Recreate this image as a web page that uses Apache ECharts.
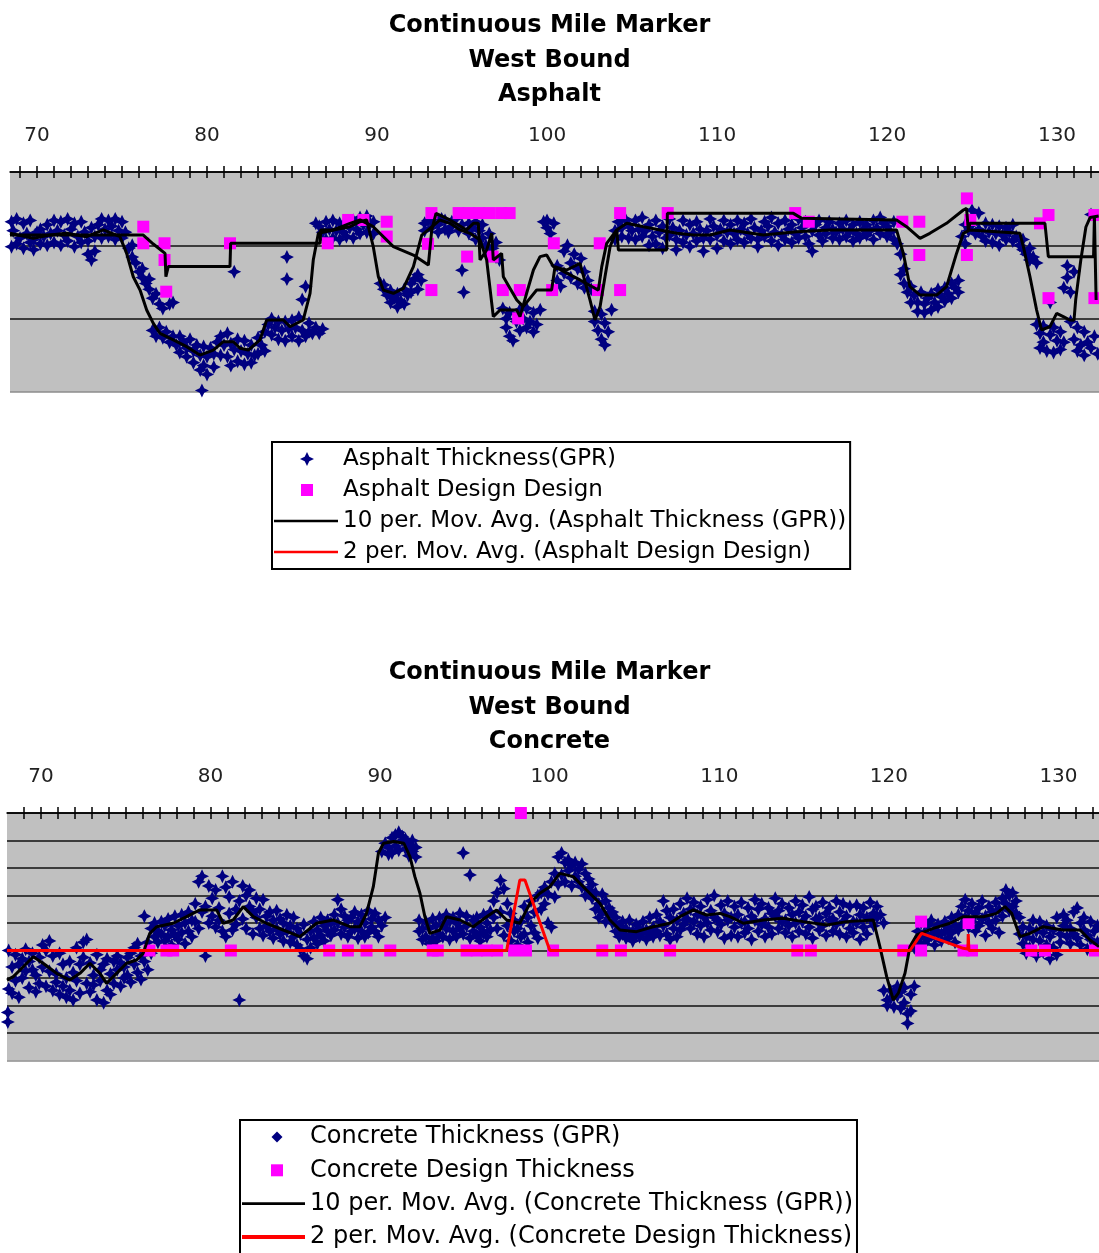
<!DOCTYPE html>
<html>
<head>
<meta charset="utf-8">
<script src="https://cdn.jsdelivr.net/npm/echarts@6/dist/echarts.min.js"></script>
<style>
html,body{margin:0;padding:0;background:#ffffff;}
#chart{width:1099px;height:1253px;}
</style>
</head>
<body>
<div id="chart"></div>
<script>
// ---------------- DATA ----------------
const mileTicks = [69,70,71,72,73,74,75,76,77,78,79,80,81,82,83,84,85,86,87,88,89,90,91,92,93,94,95,96,97,98,99,100,
  101,102,103,104,105,106,107,108,109,110,111,112,113,114,115,116,117,118,119,120,121,122,123,124,125,126,127,128,129,130,131,132];
const mileLabels = [70,80,90,100,110,120,130];

// Asphalt thickness (GPR): [mile, reading, reading...]
const asphaltGprRows = [
[68.5,3.4,5.1],[68.6,4.0],[68.8,3.2,4.9],[69.0,4.5],[69.2,3.5,5.2],[69.4,4.2],[69.6,3.3,4.8],[69.8,4.6,5.3],[70.0,4.1],[70.2,4.9,3.9],
[70.4,4.4],[70.6,5.0,3.6],[70.8,4.2],[71.0,3.3,4.8],[71.2,4.0],[71.4,3.4,5.0],[71.6,4.3],[71.8,3.2,4.7],[72.0,3.9],[72.2,3.5,5.1],
[72.4,4.4],[72.6,3.4,4.8],[72.8,4.1],[73.0,4.7,5.6],[73.2,3.8,6.0],[73.4,4.4,5.4],[73.6,3.6],[73.8,3.2,4.5],[74.0,3.9],[74.2,3.3,4.4],
[74.4,3.7],[74.6,3.2,4.6],[74.8,4.0],[75.0,3.4,4.5],[75.2,4.1],[75.4,5.2],[75.6,5.8,5.0],[75.8,6.2],[76.0,6.8],[76.2,7.2,6.6],
[76.4,7.6],[76.6,8.0,7.3],[76.8,8.6,10.8],[77.0,8.3,11.2],[77.2,9.0,10.6],[77.4,11.3,9.3],[77.6,10.9],[77.8,11.6,9.0],[78.0,8.9,11.2],[78.2,11.8],
[78.4,11.2,12.3],[78.6,11.6],[78.8,12.0,12.6],[79.0,11.4],[79.2,12.2,13.0],[79.4,11.8],[79.6,12.5,13.5],[79.7,14.9],[79.8,11.9,13.2],[80.0,12.6,13.8],
[80.2,12.0],[80.4,12.4,13.3],[80.6,11.6],[80.8,11.2,12.5],[81.0,11.8],[81.2,11.0,12.6],[81.4,11.7,13.2],[81.6,6.8,12.1],[81.8,11.4,12.9],[82.0,12.2],
[82.2,11.5,13.1],[82.4,12.4],[82.6,11.8,13.0],[82.8,12.5],[83.0,11.3,12.4],[83.2,11.8],[83.4,10.9,12.2],[83.6,10.4],[83.8,11.1,10.0],[84.0,10.6],
[84.2,11.4,10.2],[84.4,10.8],[84.6,10.2,11.5],[84.7,5.8,7.3],[84.8,10.7],[85.0,11.2,10.1],[85.2,10.6],[85.4,11.5,9.9],[85.6,8.7,10.8],[85.8,7.8,11.2],
[86.0,10.3,10.9],[86.2,11.0],[86.4,3.5,10.6],[86.6,3.7,11.0],[86.8,4.1,10.7],[87.0,3.4,4.6],[87.2,3.9],[87.4,3.3,4.5],[87.6,4.0],[87.8,3.5,4.6],
[88.0,4.1],[88.2,3.4,4.4],[88.4,3.8],[88.6,3.3,4.5],[88.8,3.9],[89.0,3.1,4.2],[89.2,3.6],[89.4,3.0,4.1],[89.6,3.5],[89.8,3.4,4.2],
[90.2,7.6],[90.4,8.0,7.7],[90.6,8.4],[90.8,8.9,8.1],[91.0,8.6],[91.2,9.2,8.3],[91.4,8.8],[91.6,8.0,9.0],[91.8,8.4],[92.0,7.6,8.2],
[92.2,7.3],[92.4,7.0,8.0],[92.6,7.4],[92.8,3.5,4.0],[93.0,3.3],[93.2,3.8,3.4],[93.4,3.1],[93.6,3.6,4.1],[93.8,3.2],[94.0,3.9,3.3],
[94.2,4.1],[94.4,3.4,3.7],[94.6,3.2],[94.8,4.0],[95.0,6.7,3.6],[95.1,8.2],[95.4,3.5,4.2],[95.6,3.8],[95.8,4.6,3.4],[96.0,4.0],
[96.2,4.5,3.6],[96.4,5.0],[96.6,5.6,4.2],[96.8,5.2],[97.0,4.8,5.8],[97.2,6.0],[97.4,9.3],[97.6,10.0,10.6],[97.8,9.6,11.2],[98.0,11.5],
[98.2,10.2],[98.4,9.4,10.8],[98.6,10.0],[98.8,9.3,10.6],[99.0,10.2],[99.2,9.6,10.9],[99.4,10.4],[99.6,9.4],[99.8,3.4],[100.0,3.8,3.3],
[100.2,4.2],[100.4,3.5],[100.6,6.4,7.4],[100.8,7.8],[101.0,6.9,5.4],[101.2,5.0],[101.4,6.2,7.2],[101.6,5.6],[101.8,6.6,7.6],[102.0,5.9],
[102.2,6.8,7.9],[102.4,7.4],[102.6,8.0],[102.8,9.5,10.2],[103.0,10.8],[103.2,9.7,11.4],[103.4,10.3,11.8],[103.6,10.9],[103.8,9.4],[104.0,4.0,4.6],
[104.2,3.4],[104.4,3.8,4.4],[104.6,3.2],[104.8,3.6,4.5],[105.0,4.0],[105.2,3.3,4.6],[105.4,3.9],[105.6,3.1,4.4],[105.8,4.0],[106.0,3.6,5.0],
[106.2,4.4],[106.4,3.3,4.9],[106.6,4.1],[106.8,3.7,5.2],[107.0,4.5],[107.2,3.2,4.3],[107.4,3.8],[107.6,4.6,5.3],[107.8,4.0],[108.0,3.3,4.8],
[108.2,4.3],[108.4,3.6,5.1],[108.6,4.2],[108.8,3.4,4.7],[109.0,3.9],[109.2,4.5,5.4],[109.4,4.0],[109.6,3.2,4.6],[109.8,3.7],[110.0,4.3,5.2],
[110.2,3.9],[110.4,3.3,4.7],[110.6,4.1],[110.8,3.6,4.9],[111.0,4.2],[111.2,3.3,4.6],[111.4,3.9],[111.6,4.8,3.5],[111.8,4.2],[112.0,3.2,4.5],
[112.2,3.8],[112.4,4.6,5.1],[112.6,4.0],[112.8,3.4,4.4],[113.0,3.7],[113.2,4.7,3.1],[113.4,4.1],[113.6,3.5,5.0],[113.8,4.3],[114.0,3.3,4.6],
[114.2,3.9],[114.4,4.8,3.6],[114.6,4.2],[114.8,3.2,4.5],[115.0,3.8],[115.2,4.4,3.4],[115.4,4.9],[115.6,4.0,5.4],[115.8,3.6],[116.0,4.3,3.3],
[116.2,4.7],[116.4,3.8,4.2],[116.6,3.4],[116.8,4.5,3.9],[117.0,4.1],[117.2,3.5,4.6],[117.4,3.9],[117.6,4.4,3.3],[117.8,4.0],[118.0,3.6,4.7],
[118.2,4.2],[118.4,3.4,4.5],[118.6,3.9],[118.8,4.3,3.6],[119.0,4.0],[119.2,3.3,4.6],[119.4,3.8],[119.6,4.2,3.1],[119.8,3.5],[120.0,4.4,3.7],
[120.2,4.1],[120.4,3.4,4.6],[120.6,4.9],[120.8,5.6,7.0],[121.0,7.6,6.6],[121.2,8.2],[121.4,7.8,8.9],[121.6,8.4],[121.8,8.9,9.5],[122.0,8.2],
[122.2,9.0,9.6],[122.4,8.6],[122.6,9.4,8.3],[122.8,8.9],[123.0,9.2,8.0],[123.2,8.5],[123.4,7.9,8.8],[123.6,8.3],[123.8,7.6,8.6],[124.0,7.9],
[124.2,7.4,8.2],[124.4,4.4],[124.6,3.6,4.9],[124.8,4.0],[125.0,2.6,3.6],[125.2,4.2],[125.4,2.8,3.9],[125.6,4.4],[125.8,3.5,4.7],[126.0,4.1],
[126.2,3.6,4.8],[126.4,4.2],[126.6,3.7,5.0],[126.8,4.3],[127.0,3.8,4.6],[127.2,4.1],[127.4,4.7,3.6],[127.6,4.4],[127.8,5.0],[128.0,4.6,5.3],
[128.2,5.6],[128.4,5.2,6.0],[128.6,5.8],[128.8,6.2,10.4],[129.0,11.0,12.0],[129.2,10.5,11.6],[129.4,12.2],[129.6,8.9,11.1],[129.8,10.6,12.3],[130.0,11.5],
[130.2,10.9,12.1],[130.4,7.9,11.6],[130.6,6.4,7.2],[130.8,8.2,10.2],[131.0,11.4,6.8],[131.2,10.6,12.2],[131.4,11.8],[131.6,10.9,12.5],[131.8,11.6],[132.0,2.9,12.0],
[132.2,11.2],[132.4,12.4]
];

// Asphalt design thickness: [mile, value]
const asphaltDesign = [
[76.25,3.73],[76.25,4.86],[77.5,4.86],[77.5,6.0],[77.6,8.16],[81.35,4.86],[87.1,4.86],[88.3,3.27],[89.2,3.27],[90.57,3.39],
[90.57,4.4],[93.2,2.8],[93.0,4.9],[93.2,8.05],[94.8,2.8],[95.4,2.8],[96.0,2.8],[96.6,2.8],[97.3,2.8],[97.8,2.8],
[95.3,5.77],[96.8,5.77],[97.4,8.05],[98.4,8.05],[98.3,9.98],[100.3,8.05],[100.4,4.86],[103.1,4.86],[103.0,8.05],[104.3,2.8],
[104.3,8.05],[107.1,2.8],[114.6,2.8],[115.4,3.39],[120.9,3.39],[121.9,3.39],[121.9,5.66],[124.7,1.8],[124.7,5.66],[124.9,3.27],
[129.0,3.5],[129.5,2.93],[129.5,8.6],[132.2,2.93],[132.2,8.6]
];

// 10 per. moving average of asphalt GPR thickness
const asphaltGprAvg = [
[68.41,4.18],[69.78,4.52],[70.76,4.3],[71.74,4.18],[72.92,4.41],[73.9,3.95],[74.88,4.41],[75.27,5.55],[75.66,7.14],[76.06,8.05],
[76.45,9.41],[76.84,10.32],[77.23,11.0],[78.02,11.45],[78.8,11.91],[79.58,12.48],[80.37,12.14],[80.96,11.57],[81.55,11.57],[81.94,12.02],
[82.43,12.14],[83.11,11.45],[83.51,10.09],[84.49,10.09],[84.88,10.55],[85.66,10.09],[86.06,8.27],[86.25,6.0],[86.55,4.18],[87.43,3.95],
[88.41,3.73],[89.0,3.39],[89.39,3.27],[89.78,5.09],[90.08,7.14],[90.37,8.05],[90.96,8.27],[91.55,7.93],[92.14,6.45],[92.63,4.3],
[93.12,3.84],[93.7,3.27],[94.29,3.5],[94.88,3.95],[95.47,4.18],[96.06,4.64],[96.45,6.0],[96.84,9.86],[97.24,9.41],[98.22,9.41],
[98.41,9.86],[98.8,8.27],[99.2,6.68],[99.59,5.77],[99.98,5.66],[100.37,6.45],[101.16,6.68],[101.94,6.23],[102.53,8.73],[102.82,10.09],
[103.12,9.18],[103.41,7.14],[103.71,5.09],[104.1,3.95],[104.69,3.5],[105.67,3.73],[106.65,3.95],[107.63,4.18],[108.61,4.3],[109.59,4.3],
[110.76,3.95],[112.72,4.3],[114.68,4.07],[116.64,3.95],[118.6,3.95],[120.56,3.95],[120.96,5.55],[121.35,7.82],[121.94,8.39],[122.92,8.39],
[123.5,7.82],[124.09,5.55],[124.49,4.18],[124.88,3.95],[126.45,4.07],[127.82,4.18],[128.02,5.09],[128.41,7.14],[128.8,9.41],[129.09,10.77],
[129.58,10.55],[129.98,9.64],[130.37,9.86],[130.76,10.09],[131.0,10.1],[131.1,8.7],[131.4,6.0],[131.7,3.75],[131.95,3.1],[132.45,3.0]
];

// 2 per. moving average of asphalt design thickness
const asphaltDesignAvg = [
[68.41,4.3],[76.25,4.3],[76.84,4.91],[77.53,5.55],[77.58,7.14],[77.72,6.45],[81.35,6.45],[81.39,4.86],[86.65,4.86],[86.69,3.95],
[87.43,3.95],[88.41,3.5],[89.0,3.27],[89.78,3.73],[90.96,5.09],[92.14,5.66],[93.02,6.34],[93.22,3.95],[93.47,2.82],[94.29,3.27],
[95.27,3.95],[95.67,3.5],[95.96,3.5],[96.06,6.0],[96.45,5.32],[96.75,4.18],[96.84,6.0],[97.33,5.55],[97.43,7.14],[98.22,8.73],
[98.6,9.18],[99.39,8.05],[100.27,8.05],[100.47,6.45],[101.16,6.9],[101.94,7.36],[103.02,8.05],[103.22,6.45],[103.51,4.86],[104.1,3.95],
[104.2,5.32],[107.04,5.32],[107.08,2.82],[114.49,2.82],[114.98,3.16],[120.56,3.27],[121.15,3.73],[121.94,4.52],[122.52,4.18],[123.5,3.5],
[124.49,2.59],[124.68,2.48],[124.78,3.95],[124.88,3.5],[129.29,3.5],[129.49,5.77],[132.15,5.77],[132.2,3.05],[132.3,8.73]
];

// Concrete thickness (GPR): [mile, reading, reading...]
const concreteGprRows = [
[68.05,14.5,15.2],[68.1,12.8,10.0],[68.3,11.2,13.1],[68.5,10.3,12.2],[68.7,11.0,13.4],[68.9,10.6,12.0],[69.1,9.9,11.5],[69.3,10.8,12.7],[69.5,10.2,11.4],[69.7,11.8,13.0],
[69.9,10.5,12.4],[70.1,11.2,9.6],[70.3,10.0,12.6],[70.5,9.3,11.5],[70.7,10.4,12.9],[70.9,11.7,12.3],[71.1,10.2,13.2],[71.3,12.6,11.0],[71.5,13.4,12.0],[71.7,10.8,12.9],
[71.9,13.6,11.6],[72.1,9.8,12.2],[72.3,11.0,13.1],[72.5,9.4,10.5],[72.7,12.4,9.2],[72.9,10.9,13.0],[73.1,11.8,12.5],[73.3,10.3,13.6],[73.5,12.2,11.4],[73.7,13.8,11.0],
[73.9,12.9,10.6],[74.1,11.7,13.2],[74.3,10.8,12.4],[74.5,11.4,10.4],[74.7,12.6,10.9],[74.9,11.2,12.0],[75.1,10.5,11.8],[75.3,12.3,10.2],[75.5,11.0,9.8],[75.7,11.6,9.5],
[75.9,10.4,12.1],[76.1,7.5,10.8],[76.3,9.4,11.4],[76.5,8.4,10.2],[76.7,9.0,8.0],[76.9,8.6,9.4],[77.1,7.9,8.8],[77.3,9.3,8.2],[77.5,7.7,9.0],[77.7,8.5,9.6],
[77.9,7.5,8.9],[78.1,8.2,9.2],[78.3,7.4,8.7],[78.5,9.5,8.0],[78.7,7.2,8.6],[78.9,7.8,9.0],[79.1,6.6,7.9],[79.3,5.0,8.4],[79.5,4.6,7.2],[79.7,10.4,6.8],
[79.9,5.3,8.0],[80.1,6.2,7.5],[80.3,5.6,8.3],[80.5,6.9,7.8],[80.7,4.6,8.6],[80.9,5.4,9.0],[81.1,6.1,7.3],[81.3,5.0,8.5],[81.5,7.0,8.1],[81.7,13.6,6.4],
[81.9,5.3,7.7],[82.1,6.0,8.4],[82.3,6.8,5.6],[82.5,7.2,8.8],[82.7,6.2,7.6],[82.9,8.4,7.0],[83.1,6.3,8.9],[83.3,7.5,8.2],[83.5,8.6,7.2],[83.7,7.8,9.1],
[83.9,7.1,8.4],[84.1,8.8,7.7],[84.3,9.3,8.0],[84.5,7.4,8.6],[84.7,8.2,9.4],[84.9,9.0,7.6],[85.1,8.4,9.6],[85.3,9.9,8.8],[85.5,10.4,8.1],[85.7,9.2,10.6],
[85.9,8.6,9.8],[86.1,7.9,9.1],[86.3,8.5,9.5],[86.5,7.6,8.9],[86.7,8.2,9.3],[86.9,7.8,8.6],[87.1,8.9,8.0],[87.3,7.4,8.5],[87.5,6.3,8.0],[87.7,7.0,8.8],
[87.9,8.3,7.5],[88.1,7.8,9.0],[88.3,8.6,7.6],[88.5,7.2,8.4],[88.7,7.9,9.1],[88.9,7.4,8.6],[89.1,8.0,9.0],[89.3,7.1,8.7],[89.5,7.7,8.3],[89.7,8.6,7.3],
[89.9,7.8,9.0],[90.1,2.8,8.2],[90.3,2.2,7.6],[90.5,3.0,2.5],[90.7,1.8,2.9],[90.9,2.4,1.6],[91.1,1.4,2.7],[91.3,2.0,1.7],[91.5,2.6,1.9],[91.7,2.3,3.1],
[91.9,2.8,2.0],[92.1,3.2,2.5],[92.3,8.6,7.8],[92.5,9.2,8.4],[92.7,7.9,9.0],[92.9,8.4,9.5],[93.1,9.1,7.7],[93.3,8.2,9.3],[93.5,7.6,8.8],[93.7,9.0,8.1],
[93.9,8.4,7.4],[94.1,7.9,9.2],[94.3,8.6,7.6],[94.5,8.0,9.0],[94.7,7.3,8.4],[94.9,2.9,8.8],[95.1,8.2,7.5],[95.3,4.5,9.1],[95.5,7.8,8.6],[95.7,8.9,7.6],
[95.9,8.3,9.3],[96.1,7.4,8.7],[96.3,8.0,9.0],[96.5,7.2,8.5],[96.7,6.4,7.6],[96.9,5.8,8.4],[97.1,4.9,7.2],[97.3,5.5,8.9],[97.5,6.6,8.2],[97.7,7.3,9.3],
[97.9,8.6,7.8],[98.1,9.6,8.4],[98.3,7.9,9.0],[98.5,6.8,8.8],[98.7,7.6,9.4],[98.9,8.2,6.4],[99.1,7.2,8.7],[99.3,6.0,9.1],[99.5,5.8,7.0],[99.7,6.6,5.4],
[99.9,8.0,5.9],[100.1,8.3,5.0],[100.3,4.4,6.1],[100.5,3.2,5.2],[100.7,2.9,4.5],[100.9,3.6,5.0],[101.1,4.2,3.4],[101.3,3.8,5.3],[101.5,4.6,3.6],[101.7,5.0,4.1],
[101.9,3.7,5.4],[102.1,4.4,6.0],[102.3,5.6,4.8],[102.5,6.2,5.2],[102.7,5.8,7.0],[102.9,6.6,7.6],[103.1,7.2,5.9],[103.3,6.4,7.9],[103.5,7.4,6.9],[103.7,8.0,7.2],
[103.9,8.6,7.6],[104.1,8.2,9.0],[104.3,8.8,7.9],[104.5,8.4,9.1],[104.7,7.8,8.9],[104.9,8.6,9.3],[105.1,8.1,8.9],[105.3,9.0,8.4],[105.5,7.9,8.7],[105.7,8.5,9.2],
[105.9,7.6,8.8],[106.1,8.3,9.0],[106.3,7.4,8.6],[106.5,8.9,7.9],[106.7,6.4,8.2],[106.9,7.1,8.8],[107.1,7.6,9.2],[107.3,8.4,7.0],[107.5,7.8,9.0],[107.7,6.6,8.5],
[107.9,7.3,8.1],[108.1,6.2,7.7],[108.3,7.0,8.4],[108.5,6.5,7.9],[108.7,7.4,8.8],[108.9,6.8,8.2],[109.1,7.6,9.0],[109.3,6.3,8.0],[109.5,7.1,8.5],[109.7,6.0,7.6],
[109.9,7.8,8.6],[110.1,6.7,8.1],[110.3,7.3,9.1],[110.5,6.4,7.8],[110.7,7.6,8.9],[110.9,6.8,8.3],[111.1,7.4,9.0],[111.3,6.5,8.0],[111.5,7.9,8.7],[111.7,6.9,8.4],
[111.9,7.5,9.2],[112.1,6.3,7.8],[112.3,7.0,8.6],[112.5,6.6,8.1],[112.7,7.7,9.0],[112.9,6.9,8.3],[113.1,7.3,8.8],[113.3,6.2,7.5],[113.5,7.1,8.4],[113.7,6.6,7.9],
[113.9,7.8,8.7],[114.1,6.9,8.2],[114.3,7.4,9.0],[114.5,6.4,8.0],[114.7,7.2,8.6],[114.9,6.7,7.9],[115.1,7.5,8.8],[115.3,6.1,8.3],[115.5,7.0,9.1],[115.7,6.8,7.7],
[115.9,7.6,8.5],[116.1,6.5,8.2],[116.3,7.3,8.9],[116.5,6.9,7.8],[116.7,7.7,8.6],[116.9,6.4,8.1],[117.1,7.2,8.8],[117.3,6.6,7.9],[117.5,7.5,9.0],[117.7,6.8,8.4],
[117.9,7.9,8.7],[118.1,6.7,8.0],[118.3,7.4,9.2],[118.5,6.9,8.3],[118.7,7.6,8.8],[118.9,6.5,7.7],[119.1,7.3,8.2],[119.3,6.8,7.6],[119.5,7.4],[119.7,8.0,12.9],
[119.9,13.6,14.0],[120.1,12.9,13.5],[120.3,14.1,13.0],[120.5,13.3,12.6],[120.7,14.2,13.0],[120.9,12.7,13.8],[121.1,14.6,15.3],[121.3,13.2,14.4],[121.5,12.6,9.8],[121.7,8.6,9.4],
[121.9,8.0,9.0],[122.1,8.7,9.5],[122.3,8.2,9.2],[122.5,7.8,8.9],[122.7,8.5,9.6],[122.9,8.1,8.8],[123.1,8.8,9.3],[123.3,7.9,8.6],[123.5,8.3,9.1],[123.7,7.6,8.7],
[123.9,8.2,9.4],[124.1,7.4,8.5],[124.3,6.8,8.1],[124.5,6.3,7.6],[124.7,7.1,8.3],[124.9,6.6,7.9],[125.1,7.3,8.6],[125.3,6.9,8.2],[125.5,6.4,7.7],[125.7,7.5,8.9],
[125.9,6.8,8.0],[126.1,7.2,8.4],[126.3,6.5,7.8],[126.5,7.0,8.7],[126.7,6.2,7.5],[126.9,5.6,6.6],[127.1,6.0,7.1],[127.3,5.8,6.8],[127.5,6.4,7.3],[127.7,7.6,8.8],
[127.9,8.3,9.5],[128.1,9.0,10.2],[128.3,8.4,9.8],[128.5,7.8,9.2],[128.7,8.6,10.4],[128.9,9.3,7.9],[129.1,10.1,8.7],[129.3,8.2,9.6],[129.5,10.6,9.0],[129.7,8.5,9.8],
[129.9,7.6,10.3],[130.1,8.8,9.4],[130.3,7.4,8.2],[130.5,9.0,7.8],[130.7,8.4,9.5],[130.9,7.2,8.8],[131.1,6.9,9.1],[131.3,8.0,9.6],[131.5,7.6,8.5],[131.7,8.9,9.9],
[131.9,7.9,9.2],[132.1,8.6,9.8],[132.3,9.4,8.2]
];

// Concrete design thickness: [mile, value]
const concreteDesign = [
[76.4,10],[77.4,10],[77.8,10],[81.2,10],[87.0,10],[88.1,10],[89.2,10],[90.6,10],[93.1,10],[93.4,10],
[95.1,10],[95.7,10],[96.3,10],[96.9,10],[97.9,10],[98.6,10],[98.3,0],[100.2,10],[103.1,10],[104.2,10],
[107.1,10],[114.6,10],[115.4,10],[120.85,10],[121.9,7.9],[121.9,10],[124.7,8.0],[124.4,10],[124.9,10],[128.4,10],
[129.2,10],[132.15,10]
];

// 10 per. moving average of concrete GPR thickness
const concreteGprAvg = [
[68.0,12.15],[68.37,11.9],[68.96,11.18],[69.55,10.45],[70.13,10.93],[70.92,11.66],[71.71,12.15],[72.3,11.66],[72.89,10.93],[73.48,11.66],
[73.87,12.39],[74.46,11.66],[75.05,10.93],[75.64,10.69],[76.03,10.21],[76.42,8.75],[76.82,8.27],[77.8,8.02],[78.59,7.54],[79.37,7.05],
[80.36,7.05],[80.75,8.02],[81.34,7.78],[81.93,6.81],[82.52,7.54],[83.3,8.02],[84.29,8.51],[85.27,8.99],[86.25,8.02],[87.23,7.78],
[88.22,8.27],[88.81,8.27],[89.2,7.3],[89.6,5.36],[89.9,2.93],[90.2,2.2],[90.8,2.08],[91.4,2.2],[91.76,3.18],[92.05,4.63],
[92.35,5.84],[92.64,7.54],[92.94,8.75],[93.53,8.51],[93.92,7.54],[94.71,7.78],[95.49,8.27],[96.28,7.54],[96.87,7.05],[97.46,7.78],
[98.24,8.02],[98.83,6.57],[99.42,5.84],[100.01,5.36],[100.6,4.39],[101.39,4.63],[102.17,5.6],[102.96,6.57],[103.55,7.78],[104.14,8.51],
[105.12,8.63],[106.1,8.27],[107.09,8.02],[107.68,7.54],[108.46,7.05],[109.25,7.42],[110.04,7.3],[110.63,7.54],[111.42,8.02],[112.6,7.78],
[113.77,7.66],[114.95,7.9],[116.33,8.15],[117.51,7.9],[119.08,7.78],[119.47,9.72],[119.87,11.9],[120.26,13.6],[120.56,13.1],[120.95,11.66],
[121.24,9.72],[121.64,8.87],[122.62,8.39],[123.6,8.02],[124.39,7.54],[125.57,7.54],[126.35,7.3],[126.84,6.81],[127.24,7.3],[127.73,8.99],
[128.32,8.75],[129.1,8.27],[130.28,8.51],[131.27,8.51],[131.86,9.24],[132.39,9.72]
];

// 2 per. moving average of concrete design thickness
const concreteDesignAvg = [
[68.0,10],[97.46,10],[98.24,4.87],[98.54,4.87],[100.01,10],[121.24,10],[121.93,8.75],[124.39,9.84],[124.66,9.9],[124.68,8.8],
[124.72,10],[132.39,10]
];

// ---------------- CHART ----------------
function rowsToPoints(rows) {
  const pts = [];
  rows.forEach(r => { for (let i = 1; i < r.length; i++) pts.push([r[0], r[i]]); });
  return pts;
}

const NAVY = '#000080', PINK = '#FF00FF', RED = '#FF0000', BLACK = '#000000';
const STAR = 'path://M0,-10L3.3,-3.3L10,0L3.3,3.3L0,10L-3.3,3.3L-10,0L-3.3,-3.3Z';
const FONT = 'DejaVu Sans';

// legend icons: the leading moves fix the icon box to the legend item size, so shapes keep their proportions
const LEG_STAR_A = 'path://M0,0M64,14M33,0L35.3,4.7L40,7L35.3,9.3L33,14L30.7,9.3L26,7L30.7,4.7Z';
const LEG_SQ_A = 'path://M0,0M64,14M27,1L39,1L39,13L27,13Z';
const LEG_LINE_A = 'path://M0,0M64,14M0,5.75L64,5.75L64,8.25L0,8.25Z';
const LEG_DIAM_B = 'path://M0,0M63,14M35,1.5L40.5,7L35,12.5L29.5,7Z';
const LEG_SQ_B = 'path://M0,0M63,14M29,1L41,1L41,13L29,13Z';
const LEG_LINE_B = 'path://M0,0M63,14M0,5.6L63,5.6L63,8.4L0,8.4Z';
const LEG_LINE_B_THICK = 'path://M0,0M63,14M0,5L63,5L63,9L0,9Z';

function xAxes(gridIndex, min, max) {
  const base = { type: 'value', gridIndex, min, max, position: 'top', splitLine: { show: false } };
  const tickStyle = { color: BLACK, width: 1.5 };
  return [
    Object.assign({}, base, {
      axisLine: { show: true, lineStyle: { color: BLACK, width: 1.5 } },
      axisTick: { show: true, customValues: mileTicks, length: 6, inside: false, lineStyle: tickStyle },
      axisLabel: { show: true, customValues: mileLabels, margin: 26, fontSize: 20, fontFamily: FONT, color: '#222' }
    }),
    Object.assign({}, base, {
      axisLine: { show: false },
      axisTick: { show: true, customValues: mileTicks, length: 6, inside: true, lineStyle: tickStyle },
      axisLabel: { show: false }
    })
  ];
}

function yAxis(gridIndex, max, interval, gridColors) {
  return {
    type: 'value', gridIndex, inverse: true, min: 0, max, interval,
    axisLine: { show: false }, axisTick: { show: false }, axisLabel: { show: false },
    splitLine: { show: true, lineStyle: { color: gridColors, width: 1.5 } }
  };
}

const topGrid = ['#000', '#111', '#111', '#8c8c8c'];
const botGrid = ['#000', '#111', '#111', '#111', '#111', '#111', '#111', '#111', '#111', '#8c8c8c'];

const titleStyle = { fontFamily: FONT, fontSize: 24, fontWeight: 'bold', color: '#000', lineHeight: 34.3 };

const option = {
  animation: false,
  backgroundColor: '#ffffff',
  title: [
    { text: 'Continuous Mile Marker\nWest Bound\nAsphalt', left: 'center', top: 4, textStyle: titleStyle },
    { text: 'Continuous Mile Marker\nWest Bound\nConcrete', left: 'center', top: 651, textStyle: titleStyle }
  ],
  grid: [
    { left: 10, top: 172, width: 1089, height: 220, show: true, backgroundColor: '#C0C0C0', borderWidth: 0 },
    { left: 7, top: 813, width: 1092, height: 247.5, show: true, backgroundColor: '#C0C0C0', borderWidth: 0 }
  ],
  xAxis: [].concat(xAxes(0, 68.41, 132.47), xAxes(1, 68.0, 132.39)),
  yAxis: [ yAxis(0, 15, 5, topGrid), yAxis(1, 18, 2, botGrid) ],
  legend: [
    {
      data: [
        { name: 'Asphalt Thickness(GPR)', icon: LEG_STAR_A },
        { name: 'Asphalt Design Design', icon: LEG_SQ_A },
        { name: '10 per. Mov. Avg. (Asphalt Thickness (GPR))', icon: LEG_LINE_A },
        { name: '2 per. Mov. Avg. (Asphalt Design Design)', icon: LEG_LINE_A, itemStyle: { color: RED } }
      ],
      orient: 'vertical', left: 272, top: 442, height: 300, itemWidth: 64, itemHeight: 14, itemGap: 7,
      padding: [5, 4, 5, 2], borderColor: BLACK, borderWidth: 2, selectedMode: false,
      textStyle: { fontFamily: FONT, fontSize: 23, color: '#000', lineHeight: 24 }
    },
    {
      data: [
        { name: 'Concrete Thickness (GPR)', icon: LEG_DIAM_B },
        { name: 'Concrete Design Thickness', icon: LEG_SQ_B },
        { name: '10 per. Mov. Avg. (Concrete Thickness (GPR))', icon: LEG_LINE_B },
        { name: '2 per. Mov. Avg. (Concrete Design Thickness)', icon: LEG_LINE_B_THICK }
      ],
      orient: 'vertical', left: 240, top: 1120, height: 300, itemWidth: 63, itemHeight: 14, itemGap: 7.3,
      padding: [4, 4, 4, 2], borderColor: BLACK, borderWidth: 2, selectedMode: false,
      textStyle: { fontFamily: FONT, fontSize: 24, color: '#000', lineHeight: 26 }
    }
  ],
  series: [
    { name: 'Asphalt Thickness(GPR)', type: 'scatter', xAxisIndex: 0, yAxisIndex: 0, data: rowsToPoints(asphaltGprRows),
      symbol: STAR, symbolSize: 14, itemStyle: { color: NAVY, opacity: 1 }, silent: true, z: 2 },
    { name: 'Asphalt Design Design', type: 'scatter', xAxisIndex: 0, yAxisIndex: 0, data: asphaltDesign,
      symbol: 'rect', symbolSize: 12, itemStyle: { color: PINK, opacity: 1 }, silent: true, z: 3 },
    { name: '10 per. Mov. Avg. (Asphalt Thickness (GPR))', type: 'line', xAxisIndex: 0, yAxisIndex: 0, data: asphaltGprAvg,
      symbol: 'none', lineStyle: { color: BLACK, width: 3 }, itemStyle: { color: BLACK }, silent: true, z: 4 },
    { name: '2 per. Mov. Avg. (Asphalt Design Design)', type: 'line', xAxisIndex: 0, yAxisIndex: 0, data: asphaltDesignAvg,
      symbol: 'none', lineStyle: { color: BLACK, width: 3 }, itemStyle: { color: BLACK }, silent: true, z: 4 },

    { name: 'Concrete Thickness (GPR)', type: 'scatter', xAxisIndex: 2, yAxisIndex: 1, data: rowsToPoints(concreteGprRows),
      symbol: STAR, symbolSize: 14, itemStyle: { color: NAVY, opacity: 1 }, silent: true, z: 2 },
    { name: 'Concrete Design Thickness', type: 'scatter', xAxisIndex: 2, yAxisIndex: 1, data: concreteDesign,
      symbol: 'rect', symbolSize: 12, itemStyle: { color: PINK, opacity: 1 }, silent: true, z: 3 },
    { name: '10 per. Mov. Avg. (Concrete Thickness (GPR))', type: 'line', xAxisIndex: 2, yAxisIndex: 1, data: concreteGprAvg,
      symbol: 'none', lineStyle: { color: BLACK, width: 3 }, itemStyle: { color: BLACK }, silent: true, z: 4 },
    { name: '2 per. Mov. Avg. (Concrete Design Thickness)', type: 'line', xAxisIndex: 2, yAxisIndex: 1, data: concreteDesignAvg,
      symbol: 'none', lineStyle: { color: RED, width: 3 }, itemStyle: { color: RED }, silent: true, z: 5 }
  ]
};

const chart = echarts.init(document.getElementById('chart'), null, { renderer: 'canvas' });
chart.setOption(option);
</script>
</body>
</html>
